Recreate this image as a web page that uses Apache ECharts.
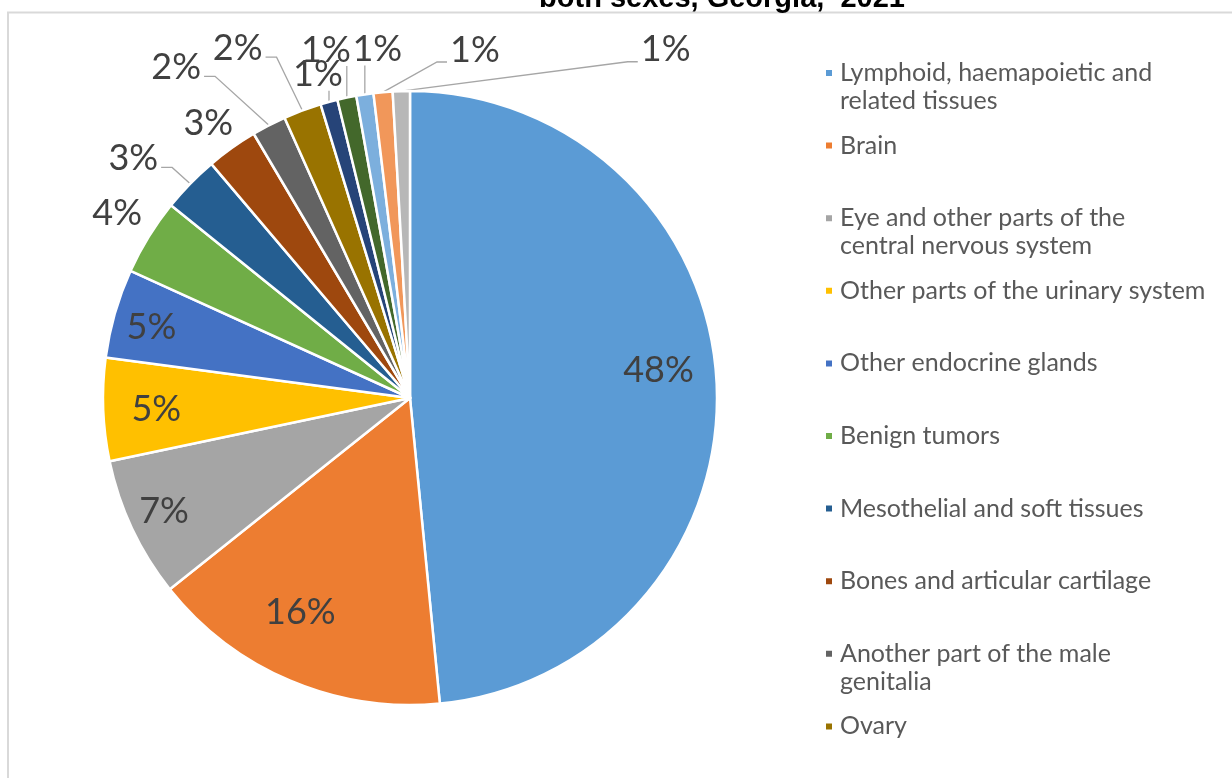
<!DOCTYPE html>
<html><head><meta charset="utf-8">
<script src="https://cdn.jsdelivr.net/npm/echarts@6/dist/echarts.min.js"></script>
<style>html,body{margin:0;padding:0;background:#fff}#c{width:1232px;height:778px}</style>
</head><body><div id="c"></div>
<script>
// ---- data ----
const titleText = 'both sexes, Georgia,  2021';
const categories = [
  'Lymphoid, haemapoietic and related tissues',
  'Brain',
  'Eye and other parts of the central nervous system',
  'Other parts of the urinary system',
  'Other endocrine glands',
  'Benign tumors',
  'Mesothelial and soft tissues',
  'Bones and articular cartilage',
  'Another part of the male genitalia',
  'Ovary',
  'Kidney',
  'Thyroid gland',
  'Testis',
  'Liver',
  'Skin'
];
const legendLabels = [
  'Lymphoid, haemapoietic and\nrelated tissues',
  'Brain',
  'Eye and other parts of the\ncentral nervous system',
  'Other parts of the urinary system',
  'Other endocrine glands',
  'Benign tumors',
  'Mesothelial and soft tissues',
  'Bones and articular cartilage',
  'Another part of the male\ngenitalia',
  'Ovary',
  'Kidney',
  'Thyroid gland',
  'Testis',
  'Liver',
  'Skin'
];
const shares = [48.45, 15.85, 7.4, 5.4, 4.7, 4.0, 3.0, 2.7, 1.8, 2.0, 0.9, 1.0, 0.9, 1.0, 0.9];

// ---- styles / layout ----
const colors = ['#5B9BD5','#ED7D31','#A5A5A5','#FFC000','#4472C4','#70AD47','#255E91','#9E480E',
                '#636363','#997300','#264478','#43682B','#7CAFDD','#F1975A','#B7B7B7'];
const CX = 410, CY = 398, R = 307;
// label placement: radial distance and angular shift (deg) from slice middle, leader style
const labelPlacement = [
  {r: 250, shift: -3.5}, {r: 241, shift: 4.1}, {r: 271, shift: 0.4}, {r: 254, shift: -0.5},
  {r: 268, shift: -0.8}, {r: 346, shift: 0.5}, {r: 366, shift: -3.4, line: 'right'},
  {r: 341, shift: -0.8}, {r: 405, shift: -7.9, line: 'right'}, {r: 390, shift: -5.7, line: 'right'},
  {r: 336, shift: -0.6, line: 'down'}, {r: 358, shift: -1.7, line: 'down'}, {r: 350, shift: 3.1, line: 'down'},
  {r: 354, shift: 15.6, line: 'left'}, {r: 432, shift: 37.9, line: 'left'}
];
const FONT = 'Lato, "Open Sans", sans-serif';
const LEGEND_STEP = 72.6, LEGEND_FIRST = 73, LINE_H = 28;

const total = shares.reduce((a, b) => a + b, 0);
let acc = 0;
const midAngles = shares.map(v => { const m = (acc + v / 2) / total * 360; acc += v; return m; });

const chart = echarts.init(document.getElementById('c'), null, {renderer: 'canvas'});

const lineStyle = {color: '#A6A6A6', width: 1.3};
const seriesData = categories.map((name, i) => ({
  name,
  value: shares[i],
  itemStyle: {color: colors[i]},
  labelLine: {show: !!labelPlacement[i].line, lineStyle}
}));

// square marker aligned with the first text line (path box = 8 x (8 + line height))
const topSquareIcon = 'path://M0,0H8V8H0Z M0,' + (8 + LINE_H - 0.01) + 'H8V' + (8 + LINE_H) + 'H0Z';

const legends = categories.map((name, i) => {
  const two = legendLabels[i].indexOf('\n') >= 0;
  return {
    orient: 'vertical',
    left: 824,
    top: LEGEND_FIRST + i * LEGEND_STEP - 14,
    padding: 0,
    itemWidth: 8, itemHeight: two ? 8 + LINE_H : 8,
    icon: two ? topSquareIcon : 'rect',
    selectedMode: false,
    data: [name],
    formatter: n => legendLabels[categories.indexOf(n)],
    textStyle: {fontSize: 25, lineHeight: LINE_H, color: '#595959', fontFamily: FONT, padding: [0, 0, 0, 2]}
  };
});

chart.setOption({
  animation: false,
  backgroundColor: '#fff',
  legend: legends,
  graphic: [
    {type: 'rect', shape: {x: 8, y: 12.5, width: 1400, height: 1000}, style: {fill: 'none', stroke: '#D9D9D9', lineWidth: 2}, silent: true, z: -1},
    {type: 'text', x: 722, y: -1, style: {text: titleText, textAlign: 'center', textVerticalAlign: 'middle',
      fontSize: 29, fontWeight: 'bold', fontFamily: '"Liberation Sans", Arial, sans-serif', fill: '#000'}, silent: true}
  ],
  series: [{
    type: 'pie',
    center: [CX, CY],
    radius: R,
    startAngle: 90,
    clockwise: true,
    avoidLabelOverlap: false,
    itemStyle: {borderColor: '#fff', borderWidth: 2.5},
    label: {
      show: true,
      position: 'outside',
      formatter: p => Math.round(p.percent) + '%',
      fontSize: 36,
      fontFamily: FONT,
      color: '#404040'
    },
    labelLine: {show: false, length: 5, length2: 5, lineStyle},
    emphasis: {disabled: true},
    data: seriesData,
    labelLayout: function (p) {
      const i = p.dataIndex;
      const pl = labelPlacement[i];
      const a = (midAngles[i] + pl.shift) * Math.PI / 180;
      const x = CX + pl.r * Math.sin(a), y = CY - pl.r * Math.cos(a);
      const out = {x, y, align: 'center', verticalAlign: 'middle'};
      if (pl.line) {
        const m = midAngles[i] * Math.PI / 180;
        const ex = CX + R * Math.sin(m), ey = CY - R * Math.cos(m);
        const hw = p.labelRect.width / 2;
        let pts;
        if (pl.line === 'right') pts = [[x + hw + 3, y + 9], [x + hw + 14, y + 9], [ex, ey]];
        else if (pl.line === 'left') pts = [[x - hw - 3, y + 12], [x - hw - 13, y + 12], [ex, ey]];
        else pts = [[ex, y + 16], [ex, (y + 16 + ey) / 2], [ex, ey]];
        out.labelLinePoints = pts;
      }
      return out;
    }
  }]
});
</script></body></html>
